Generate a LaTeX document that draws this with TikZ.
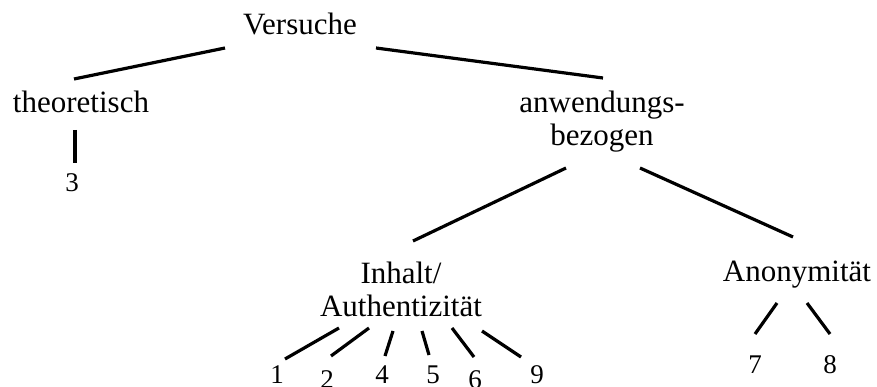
\documentclass[tikz,border=0pt]{standalone}
\usepackage{fontspec}
\setmainfont{Liberation Serif}
\begin{document}
\begin{tikzpicture}[x=1pt,y=-1pt,
  lbl/.style={anchor=base,inner sep=0pt,font=\fontsize{31}{33}\selectfont,align=center},
  num/.style={anchor=base,inner sep=0pt,font=\fontsize{27}{30}\selectfont},
  edge/.style={line width=3.2pt}]
\useasboundingbox (0,0) rectangle (877,387);
% labels (multi-line nodes: base = baseline of last line)
\node[lbl] (versuche) at (300,35) {Versuche};
\node[lbl] (theo) at (81,113) {theoretisch};
\node[lbl] (anw) at (602,146) {anwendungs-\\bezogen};
\node[lbl] (inh) at (401,316) {Inhalt/\\Authentizität};
\node[lbl] (anon) at (797,281) {Anonymität};
\node[num] (n3) at (72,192) {3};
\node[num] (n1) at (277,383) {1};
\node[num] (n2) at (327,388) {2};
\node[num] (n4) at (382,383) {4};
\node[num] (n5) at (433,383) {5};
\node[num] (n6) at (475,388) {6};
\node[num] (n9) at (537,383) {9};
\node[num] (n7) at (755,373) {7};
\node[num] (n8) at (830,373) {8};
% connector end points
\coordinate (vL) at (225,48); \coordinate (tU) at (74,79);
\coordinate (vR) at (376,48); \coordinate (aU) at (603,78);
\coordinate (tD) at (75,130); \coordinate (n3U) at (75,163);
\coordinate (aL) at (566,168); \coordinate (iU) at (413,241);
\coordinate (aR) at (640,168); \coordinate (anU) at (793,237);
\coordinate (i1) at (339,328); \coordinate (n1U) at (285,359);
\coordinate (i2) at (369,328); \coordinate (n2U) at (331,356);
\coordinate (i4) at (393,331); \coordinate (n4U) at (385,356);
\coordinate (i5) at (422,331); \coordinate (n5U) at (429,355);
\coordinate (i6) at (452,328); \coordinate (n6U) at (474,357);
\coordinate (i9) at (482,331); \coordinate (n9U) at (521,357);
\coordinate (an7) at (777,303); \coordinate (n7U) at (755,334);
\coordinate (an8) at (807,303); \coordinate (n8U) at (830,334);
% connectors
\draw[edge] (vL) -- (tU);
\draw[edge] (vR) -- (aU);
\draw[edge] (tD) -- (n3U);
\draw[edge] (aL) -- (iU);
\draw[edge] (aR) -- (anU);
\draw[edge] (i1) -- (n1U);
\draw[edge] (i2) -- (n2U);
\draw[edge] (i4) -- (n4U);
\draw[edge] (i5) -- (n5U);
\draw[edge] (i6) -- (n6U);
\draw[edge] (i9) -- (n9U);
\draw[edge] (an7) -- (n7U);
\draw[edge] (an8) -- (n8U);
\end{tikzpicture}
\end{document}
